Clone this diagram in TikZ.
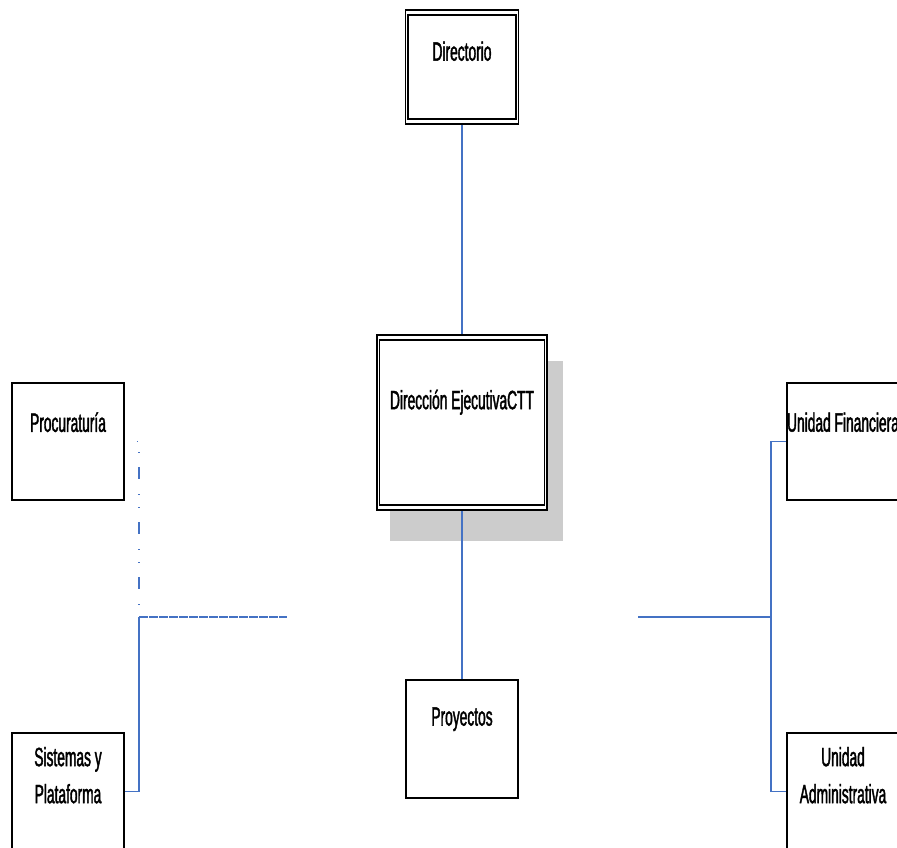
\documentclass[tikz,border=0pt]{standalone}
\usepackage{fontspec}
\newfontfamily\unitfont[FakeStretch=0.52, FakeBold=1.5]{Liberation Sans}
\usetikzlibrary{backgrounds}
\definecolor{linkblue}{HTML}{4472C4}

\begin{document}
\begin{tikzpicture}[x=1pt, y=-1pt,
  unit/.style={draw, line width=1.6pt, fill=white, minimum width=112pt, minimum height=117pt, inner sep=0pt},
  unittext/.style={align=center, inner sep=0pt, font=\unitfont\fontsize{26.5}{37}\selectfont},
  link/.style={draw=linkblue, line width=1.5pt},
]

\useasboundingbox (0,0) rectangle (897,847);
\begin{scope}[on background layer]
  \fill [white] (0,0) rectangle (897,847);
\end{scope}
\clip (0,0) rectangle (897,847);

% central column
\node (dir) [unit, minimum width=113pt, minimum height=114pt] at (462, 67) {};
\node (dec) [unit, minimum width=170pt, minimum height=175pt] at (462, 422.5) {};
\node (pro) [unit, minimum height=118pt] at (462, 739) {};

\foreach \u in {dir, dec}
  \draw [line width=1.6pt] ([shift={(3.2,6)}]\u.north west) rectangle ([shift={(-3.2,-6)}]\u.south east);

\begin{scope}[on background layer]
  \fill [gray!40] ([shift={(14,27)}]dec.north west) rectangle ([shift={(15,30)}]dec.south east);
\end{scope}

\node (dir-txt) [unittext] at ([yshift=-42pt]dir.north) {Directorio};
\node (dec-txt) [unittext] at ([yshift=-68pt]dec.north) {Dirección EjecutivaCTT};
\node (pro-txt) [unittext] at ([yshift=-40pt]pro.north) {Proyectos};

% side units
\foreach \n/\x/\y/\d/\t in {proc/68/441.5/40/Procuraturía, fin/843/441.5/40/Unidad Financiera, sis/68/791.5/43/{Sistemas y\\Plataforma}, adm/843/791.5/43/{Unidad\\Administrativa}}
{
  \node (\n) [unit] at (\x, \y) {};
  \node (\n-txt) [unittext] at ([yshift=-\d pt]\n.north) {\t};
}

\draw [link] (dir) -- (dec);
\draw [link] (dec) -- (pro);

% left branch
\coordinate (jl) at (139, 617);
\coordinate (jl-end) at (287, 617);
\draw [link, dash pattern=on 12pt off 15pt on 1pt off 12pt on 1pt off 14pt, dash phase=15pt] (proc.east) -| (jl);
\draw [link, dash pattern=on 9pt off 1pt] (jl) -- (jl-end);
\draw [link] (jl) |- (sis.east);

% right branch
\coordinate (jr) at (771, 617);
\coordinate (jr-end) at (638, 617);
\draw [link] (jr-end) -- (jr);
\draw [link] (fin.west) -| (jr) |- (adm.west);

\end{tikzpicture}
\end{document}
